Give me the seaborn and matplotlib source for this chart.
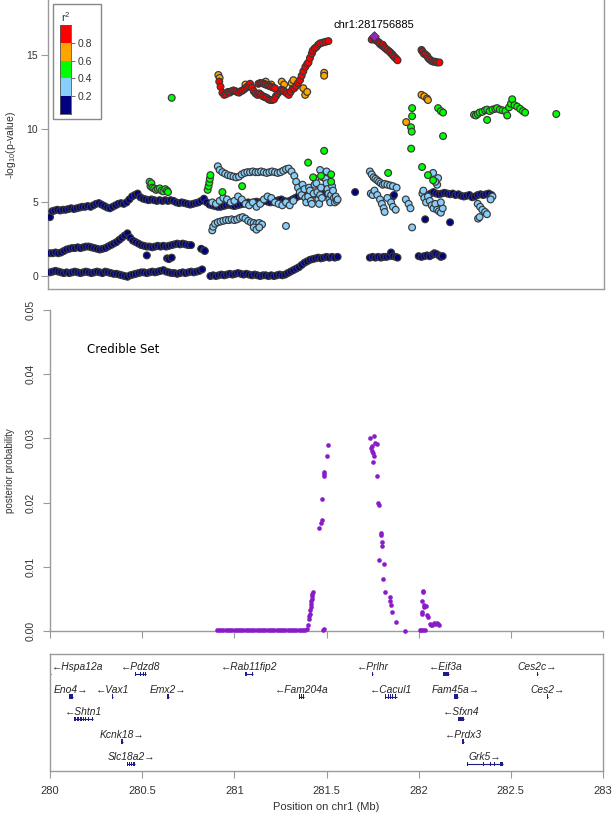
import numpy as np
import pandas as pd
import seaborn as sns
import matplotlib.pyplot as plt
from matplotlib.patches import Rectangle

sns.set_theme(style="white")
plt.rcParams['font.family'] = ['Liberation Sans', 'DejaVu Sans']
plt.rcParams['mathtext.default'] = 'regular'

# ---- association panel (-log10 p) ----
# r2 < 0.2 (navy): three long tracks plus small clusters
navy_low_pos = [280.00, 280.015, 280.03, 280.045, 280.06, 280.075, 280.09, 280.105, 280.12, 280.135,
                280.15, 280.165, 280.18, 280.195, 280.21, 280.225, 280.24, 280.255, 280.27, 280.285,
                280.30, 280.315, 280.33, 280.345, 280.36, 280.375, 280.39, 280.405, 280.42, 280.435,
                280.45, 280.465, 280.48, 280.495, 280.51, 280.525, 280.54, 280.555, 280.57, 280.585,
                280.60, 280.615, 280.63, 280.645, 280.66, 280.675, 280.69, 280.705, 280.72, 280.735,
                280.75, 280.765, 280.78, 280.795, 280.81, 280.825,
                280.87, 280.885, 280.90, 280.915, 280.93, 280.945, 280.96, 280.975, 280.99, 281.005,
                281.02, 281.035, 281.05, 281.065, 281.08, 281.095, 281.11, 281.125, 281.14, 281.155,
                281.17, 281.185, 281.20, 281.215, 281.23, 281.245, 281.26, 281.275, 281.29, 281.305,
                281.32, 281.335, 281.35, 281.365, 281.38, 281.395, 281.41, 281.425, 281.44, 281.455,
                281.47, 281.485, 281.50, 281.515, 281.53, 281.545, 281.56,
                281.735, 281.75, 281.765, 281.78, 281.795, 281.81, 281.825, 281.84, 281.85, 281.86,
                281.875, 281.885,
                282.00, 282.015, 282.03, 282.045, 282.06, 282.075, 282.085, 282.095, 282.11, 282.12, 282.13]
navy_low_val = [0.25, 0.3, 0.35, 0.3, 0.25, 0.2, 0.25, 0.2, 0.25, 0.3,
                0.25, 0.2, 0.25, 0.3, 0.25, 0.2, 0.25, 0.3, 0.25, 0.2,
                0.3, 0.25, 0.2, 0.15, 0.15, 0.1, 0.05, 0.0, -0.05, 0.05,
                0.1, 0.15, 0.2, 0.25, 0.25, 0.2, 0.25, 0.3, 0.25, 0.3,
                0.35, 0.4, 0.3, 0.25, 0.2, 0.2, 0.15, 0.2, 0.25, 0.2,
                0.25, 0.3, 0.25, 0.3, 0.35, 0.45,
                0.0, 0.05, 0.0, 0.05, 0.1, 0.05, 0.1, 0.15, 0.1, 0.15,
                0.2, 0.15, 0.1, 0.15, 0.1, 0.05, 0.1, 0.05, 0.0, 0.05,
                0.05, 0.0, 0.05, 0.0, 0.05, 0.1, 0.05, 0.1, 0.2, 0.3,
                0.4, 0.5, 0.6, 0.75, 0.9, 1.0, 1.1, 1.15, 1.2, 1.25,
                1.2, 1.25, 1.3, 1.25, 1.3, 1.25, 1.3,
                1.25, 1.3, 1.25, 1.3, 1.25, 1.3, 1.3, 1.35, 1.6, 1.35,
                1.3, 1.25,
                1.35, 1.3, 1.35, 1.4, 1.35, 1.45, 1.55, 1.5, 1.4, 1.3, 1.35]

navy_mid_pos = [280.00, 280.015, 280.03, 280.045, 280.06, 280.075, 280.09, 280.105, 280.12, 280.135,
                280.15, 280.165, 280.18, 280.195, 280.21, 280.225, 280.24, 280.255, 280.27, 280.285,
                280.30, 280.315, 280.33, 280.345, 280.36, 280.375, 280.39, 280.405, 280.42, 280.435,
                280.45, 280.465, 280.48, 280.495, 280.51, 280.525, 280.54, 280.555, 280.57, 280.585,
                280.60, 280.615, 280.63, 280.645, 280.66, 280.675, 280.69, 280.705, 280.72, 280.735,
                280.75, 280.765,
                280.525, 280.635, 280.645, 280.66, 280.82, 280.835, 280.84]
navy_mid_val = [1.55, 1.55, 1.6, 1.55, 1.6, 1.7, 1.8, 1.85, 1.9, 1.9,
                1.95, 1.9, 1.95, 2.0, 2.0, 1.95, 1.9, 1.85, 1.8, 1.85,
                1.9, 2.0, 2.1, 2.2, 2.3, 2.45, 2.6, 2.75, 2.9, 2.6,
                2.4, 2.3, 2.2, 2.1, 2.05, 2.0, 2.0, 1.95, 2.0, 2.05,
                2.0, 2.05, 2.0, 2.05, 2.1, 2.15, 2.2, 2.15, 2.2, 2.15,
                2.1, 2.1,
                1.4, 1.2, 1.15, 1.25, 1.85, 1.75, 1.7]

navy_up_pos = [280.00, 280.012, 280.025, 280.04, 280.055, 280.07, 280.085, 280.10, 280.115, 280.13,
               280.145, 280.16, 280.175, 280.19, 280.205, 280.22, 280.235, 280.25, 280.265, 280.28,
               280.295, 280.31, 280.325, 280.34, 280.355, 280.37, 280.385, 280.40, 280.415, 280.43,
               280.445, 280.46, 280.475, 280.49, 280.505, 280.52, 280.535, 280.55, 280.565, 280.58,
               280.595, 280.61, 280.625, 280.64, 280.655, 280.67, 280.685, 280.70, 280.715, 280.73,
               280.745, 280.76, 280.775, 280.79, 280.805, 280.82, 280.835, 280.85, 280.865, 280.88,
               280.895, 280.91, 280.925, 280.94, 280.955, 280.97, 280.985, 281.00, 281.015, 281.03,
               281.045, 281.06, 281.075, 281.09, 281.105, 281.12, 281.135, 281.15, 281.165, 281.18,
               281.195, 281.21, 281.225, 281.24, 281.255, 281.27, 281.285, 281.30, 281.315, 281.33,
               281.345, 281.36, 281.375, 281.39, 281.405, 281.42, 281.435, 281.45, 281.465, 281.48,
               281.495, 281.51,
               282.05, 282.065, 282.08, 282.095, 282.11, 282.125, 282.14, 282.155, 282.17, 282.185,
               282.20, 282.215, 282.23, 282.245, 282.26, 282.275, 282.29, 282.305, 282.32, 282.335,
               282.35, 282.365, 282.38, 282.395,
               281.655, 281.86, 281.866, 282.035, 282.17]
navy_up_val = [4.0, 4.4, 4.45, 4.5, 4.45, 4.5, 4.5, 4.55, 4.6, 4.55,
               4.6, 4.65, 4.7, 4.7, 4.75, 4.7, 4.8, 4.9, 4.95, 4.85,
               4.75, 4.65, 4.6, 4.7, 4.8, 4.9, 4.95, 4.9, 5.0, 5.2,
               5.4, 5.5, 5.6, 5.35, 5.25, 5.2, 5.15, 5.2, 5.15, 5.1,
               5.15, 5.1, 5.15, 5.1, 5.15, 5.1, 5.0, 4.95, 5.0, 4.95,
               4.9, 4.85, 4.9, 4.95, 5.0, 5.1, 5.25, 5.0, 4.85, 4.8,
               4.75, 4.7, 4.7, 4.75, 4.8, 4.85, 4.8, 4.75, 4.8, 4.85,
               4.9, 4.95, 5.0, 4.95, 5.0, 5.05, 5.0, 5.05, 5.1, 5.05,
               5.0, 5.05, 5.1, 5.15, 5.2, 5.1, 5.05, 5.1, 5.2, 5.3,
               5.4, 5.45, 5.5, 5.55, 5.5, 5.6, 5.55, 5.6, 5.55, 5.6,
               5.55, 5.6,
               5.5, 5.6, 5.7, 5.6, 5.55, 5.6, 5.65, 5.6, 5.55, 5.6,
               5.5, 5.55, 5.45, 5.4, 5.45, 5.5, 5.35, 5.4, 5.5, 5.55,
               5.5, 5.55, 5.6, 5.5,
               5.7, 5.4, 5.5, 3.85, 3.65]

# 0.2 <= r2 < 0.4 (light blue)
sky_pos = [280.91, 280.92, 280.935, 280.95, 280.965, 280.98, 280.995, 281.01, 281.025, 281.04,
           281.055, 281.07, 281.085, 281.10, 281.115, 281.13, 281.145, 281.16, 281.175, 281.19,
           281.205, 281.22, 281.235, 281.25, 281.265, 281.28, 281.295, 281.31, 281.325, 281.335,
           281.345, 281.355, 281.365,
           281.37, 281.38, 281.385, 281.39, 281.40, 281.405, 281.41, 281.415, 281.42, 281.43,
           281.435, 281.44, 281.445, 281.45, 281.455, 281.46, 281.465, 281.47, 281.475, 281.48,
           281.485, 281.49, 281.495, 281.50, 281.505, 281.51, 281.515, 281.52, 281.525, 281.53,
           281.535, 281.54, 281.545, 281.55, 281.555, 281.56, 281.465, 281.50,
           280.88, 280.90, 280.92, 280.94, 280.96, 280.98, 281.00, 281.02, 281.04, 281.06,
           281.08, 281.10, 281.12, 281.14, 281.16, 281.18, 281.20, 281.22, 281.24, 281.26,
           281.28, 281.30, 281.32,
           280.88, 280.885, 280.895, 280.91, 280.925, 280.94, 280.955, 280.97, 280.985, 281.00,
           281.015, 281.03, 281.045, 281.06, 281.075, 281.09, 281.105, 281.12, 281.135, 281.15,
           281.105, 281.12, 281.135, 281.28,
           281.735, 281.745, 281.755, 281.765, 281.775, 281.785, 281.795, 281.805, 281.815, 281.83,
           281.845, 281.86, 281.88, 281.74, 281.75, 281.76, 281.775, 281.79, 281.80, 281.81,
           281.815, 281.83, 281.85, 281.86, 281.875,
           281.93, 281.945, 281.955, 281.964, 282.078, 282.10, 282.105, 282.09, 282.02, 282.03,
           282.04, 282.05, 282.06, 282.07, 282.08, 282.09, 282.10, 282.11, 282.12, 282.13,
           282.12, 282.025, 282.32, 282.333, 282.345, 282.36, 282.37, 282.322, 282.33, 282.40, 282.39]
sky_val = [7.45, 7.2, 7.05, 6.95, 6.85, 6.8, 6.75, 6.7, 6.75, 6.9,
           7.0, 7.05, 7.05, 7.1, 7.05, 7.05, 7.1, 7.05, 7.0, 7.05,
           7.1, 7.05, 7.0, 7.05, 7.15, 7.25, 7.3, 7.1, 6.8, 6.4,
           6.0, 5.7, 5.5,
           6.2, 5.9, 5.3, 5.0, 5.4, 6.0, 5.8, 5.1, 4.9, 5.6,
           6.2, 6.6, 6.3, 5.7, 5.2, 4.9, 5.5, 6.0, 5.3, 6.7,
           7.0, 6.9, 6.6, 6.3, 5.9, 5.6, 5.2, 5.0, 5.5, 6.1,
           5.8, 5.3, 5.0, 5.4, 5.1, 5.2, 7.2, 7.1,
           5.0, 4.9, 5.1, 5.3, 5.2, 5.0, 5.1, 5.4, 5.2, 4.9,
           4.8, 5.0, 4.7, 4.9, 5.2, 5.4, 5.3, 5.0, 4.9, 4.8,
           5.0, 4.8, 5.1,
           3.1, 3.35, 3.55, 3.65, 3.7, 3.75, 3.8, 3.8, 3.85, 3.8,
           3.85, 3.95, 4.0, 3.9, 3.75, 3.65, 3.6, 3.55, 3.6, 3.5,
           3.3, 3.15, 3.3, 3.4,
           7.1, 6.9, 6.7, 6.6, 6.5, 6.4, 6.3, 6.2, 6.25, 6.2,
           6.15, 6.1, 6.0, 5.6, 5.5, 5.8, 5.5, 5.2, 4.9, 4.6,
           4.35, 5.3, 5.0, 4.7, 4.5,
           5.2, 4.9, 4.6, 3.3, 7.0, 6.2, 6.65, 6.4, 5.6, 5.3,
           5.0, 5.4, 5.1, 4.8, 4.6, 4.9, 4.5, 4.4, 4.3, 4.6,
           5.0, 5.8, 4.9, 4.7, 4.5, 4.35, 4.2, 3.9, 4.0, 5.4, 5.2]

# 0.4 <= r2 < 0.6 (green)
green_pos = [280.54, 280.545, 280.55, 280.555, 280.565, 280.575, 280.585, 280.595, 280.605, 280.615,
             280.625, 280.635, 280.64, 280.66, 280.855, 280.86, 280.864, 280.867, 280.87, 280.935,
             281.042, 281.40, 281.427, 281.47, 281.487, 281.525, 281.525, 281.834, 281.964, 281.964,
             281.958, 281.962, 281.959, 282.132, 282.105, 282.12, 282.132, 282.018, 282.05, 282.078,
             282.30, 282.31, 282.32, 282.33, 282.345, 282.36, 282.371, 282.371, 282.385, 282.40,
             282.415, 282.425, 282.44, 282.455, 282.47, 282.48, 282.49, 282.50, 282.507, 282.52,
             282.534, 282.55, 282.565, 282.577, 282.746]
green_val = [6.4, 6.1, 6.3, 6.0, 5.95, 5.85, 5.9, 5.95, 5.8, 5.75,
             5.9, 5.8, 5.7, 12.1, 5.85, 6.1, 6.35, 6.6, 6.85, 5.7,
             6.1, 7.7, 6.7, 6.8, 8.5, 6.9, 6.4, 7.0, 11.4, 10.85,
             10.1, 9.8, 8.65, 9.5, 11.4, 11.2, 11.1, 7.4, 6.85, 6.5,
             10.95, 10.9, 11.0, 11.1, 11.15, 11.25, 11.3, 10.6, 11.2, 11.3,
             11.35, 11.4, 11.3, 11.25, 11.2, 10.9, 11.45, 11.7, 12.0, 11.6,
             11.5, 11.35, 11.2, 11.1, 11.0]

# 0.6 <= r2 < 0.8 (orange)
orange_pos = [280.913, 280.92, 281.06, 281.17, 281.20, 281.248, 281.257, 281.27, 281.311, 281.32,
              281.374, 281.384, 281.395, 281.487, 281.487, 281.932, 282.015, 282.03, 282.045, 282.05]
orange_val = [13.65, 13.45, 13.0, 13.2, 13.0, 12.6, 13.2, 13.0, 13.1, 13.3,
              12.75, 12.3, 12.5, 13.8, 13.6, 10.45, 12.3, 12.2, 12.05, 11.95]

# r2 >= 0.8 (red)
red_pos = [280.918, 280.925, 280.935, 280.945, 280.955, 280.965, 280.975, 280.985, 280.995, 281.005,
           281.015, 281.025, 281.035, 281.045, 281.055, 281.065, 281.075, 281.085, 281.095, 281.105,
           281.115, 281.125, 281.135, 281.145, 281.155, 281.165, 281.175, 281.185, 281.195, 281.205,
           281.215, 281.225, 281.235, 281.245, 281.255, 281.265, 281.275, 281.285, 281.295, 281.305,
           281.315, 281.325, 281.335, 281.345, 281.356, 281.365, 281.374, 281.385, 281.395, 281.402,
           281.41, 281.42, 281.425, 281.435, 281.445, 281.455, 281.465, 281.48, 281.495, 281.51,
           281.13, 281.14, 281.15, 281.16, 281.17, 281.18, 281.19, 281.20, 281.21, 281.22,
           281.745, 281.76, 281.768, 281.775, 281.785, 281.79, 281.80, 281.805, 281.812, 281.82,
           281.83, 281.84, 281.848, 281.856, 281.862, 281.87, 281.878, 281.885,
           282.015, 282.02, 282.028, 282.035, 282.045, 282.052, 282.06, 282.07, 282.08, 282.09,
           282.10, 282.112]
red_val = [13.2, 12.85, 12.45, 12.3, 12.35, 12.5, 12.45, 12.55, 12.6, 12.55,
           12.5, 12.45, 12.55, 12.6, 12.7, 12.8, 12.9, 13.05, 12.8, 12.55,
           12.4, 12.3, 12.4, 12.3, 12.2, 12.15, 12.1, 12.0, 11.95, 11.95,
           12.0, 12.2, 12.4, 12.55, 12.65, 12.6, 12.5, 12.4, 12.3, 12.5,
           12.7, 12.75, 12.9, 13.1, 13.3, 13.6, 13.9, 14.2, 14.4, 14.5,
           14.8, 15.1, 15.3, 15.45, 15.55, 15.7, 15.8, 15.85, 15.9, 15.95,
           13.05, 13.1, 13.1, 13.05, 13.0, 12.95, 12.9, 12.85, 12.8, 12.75,
           16.05, 16.1, 16.0, 15.95, 15.85, 15.75, 15.65, 15.7, 15.55, 15.45,
           15.35, 15.25, 15.15, 15.05, 14.95, 14.85, 14.75, 14.65,
           15.35, 15.25, 15.1, 15.05, 14.95, 14.8, 14.7, 14.6, 14.55, 14.55,
           14.5, 14.5]

lead_pos = 281.756885
lead_val = 16.3
lead_label = "chr1:281756885"

ld_order = ["navy", "sky", "green", "orange", "red"]
ld_colors = {"navy": "#000080", "sky": "#87CEFA", "green": "#00FF00",
             "orange": "#FFA500", "red": "#FF0000"}
r2_bounds = [0.0, 0.2, 0.4, 0.6, 0.8, 1.0]
r2_ticks = [0.2, 0.4, 0.6, 0.8]

# ---- credible set panel ----
cred_pos = [280.905, 280.917, 280.929, 280.941, 280.953, 280.965, 280.977, 280.989, 281.001, 281.013,
            281.025, 281.037, 281.049, 281.061, 281.073, 281.085, 281.097, 281.109, 281.121, 281.133,
            281.145, 281.157, 281.169, 281.181, 281.193, 281.205, 281.217, 281.229, 281.241, 281.253,
            281.265, 281.277, 281.289, 281.301, 281.313, 281.325, 281.337, 281.349, 281.361, 281.373,
            281.385, 281.395, 281.40, 281.405, 281.407, 281.41, 281.412, 281.414, 281.416, 281.418,
            281.42, 281.422, 281.424, 281.426, 281.461, 281.472, 281.474, 281.478, 281.48, 281.485,
            281.485, 281.487, 281.488, 281.505, 281.508,
            281.736, 281.742, 281.745, 281.749, 281.752, 281.75, 281.755, 281.76, 281.765, 281.772,
            281.774, 281.781, 281.785, 281.794, 281.797, 281.801, 281.803, 281.787, 281.814, 281.807,
            281.82, 281.845, 281.847, 281.85, 281.857, 281.879, 281.925,
            282.005, 282.015, 282.025, 282.035, 282.017, 282.019, 282.02, 282.022, 282.024, 282.027,
            282.031, 282.038, 282.047, 282.05, 282.062, 282.068, 282.075, 282.082, 282.09, 282.10,
            282.107, 282.11]
cred_prob = [0.0001, 0.0001, 0.0001, 0.0001, 0.0001, 0.0001, 0.0001, 0.0001, 0.0001, 0.0001,
             0.0001, 0.0001, 0.0001, 0.0001, 0.0001, 0.0001, 0.0001, 0.0001, 0.0001, 0.0001,
             0.0001, 0.0001, 0.0001, 0.0001, 0.0001, 0.0001, 0.0001, 0.0001, 0.0001, 0.0001,
             0.0001, 0.0001, 0.0001, 0.0001, 0.0001, 0.0001, 0.0001, 0.0001, 0.0001, 0.0002,
             0.0002, 0.0003, 0.0009, 0.0018, 0.0023, 0.0027, 0.0033, 0.0038, 0.0042, 0.0046,
             0.0050, 0.0055, 0.0058, 0.0060, 0.0160, 0.0168, 0.0173, 0.0205, 0.0002, 0.0003,
             0.0242, 0.0245, 0.0247, 0.0272, 0.0289,
             0.0300, 0.0285, 0.0288, 0.0280, 0.0277, 0.0264, 0.0272, 0.0304, 0.0293, 0.0292,
             0.0241, 0.0199, 0.0196, 0.0152, 0.0150, 0.0138, 0.0133, 0.0110, 0.0104, 0.0081,
             0.0061, 0.0053, 0.0047, 0.0040, 0.0030, 0.0014, 0.0000,
             0.0001, 0.0001, 0.0001, 0.0001, 0.0027, 0.0030, 0.0046, 0.0062, 0.0060, 0.0038,
             0.0040, 0.0039, 0.0025, 0.0022, 0.0011, 0.0009, 0.0010, 0.0012, 0.0011, 0.0012,
             0.0011, 0.0009]

# ---- genes ----
gene_names = ["Hspa12a", "Pdzd8", "Rab11fip2", "Prlhr", "Eif3a", "Ces2c",
              "Eno4", "Vax1", "Emx2", "Fam204a", "Cacul1", "Fam45a", "Ces2",
              "Shtn1", "Sfxn4", "Kcnk18", "Prdx3", "Slc18a2", "Grk5"]
gene_start = [279.99, 280.46, 281.06, 281.748, 282.13, 282.642,
              280.105, 280.336, 280.637, 281.35, 281.82, 282.19, 282.697,
              280.13, 282.215, 280.385, 282.237, 280.42, 282.262]
gene_end = [280.005, 280.52, 281.10, 281.752, 282.165, 282.648,
            280.125, 280.342, 280.643, 281.38, 281.885, 282.215, 282.703,
            280.235, 282.245, 280.395, 282.244, 280.46, 282.46]
gene_strand = ["-", "-", "-", "-", "-", "+",
               "+", "-", "+", "-", "-", "+", "+",
               "-", "-", "+", "-", "+", "+"]
gene_row = [0, 0, 0, 0, 0, 0,
            1, 1, 1, 1, 1, 1, 1,
            2, 2, 3, 3, 4, 4]
gene_exons = {
    "Pdzd8": [280.462, 280.475, 280.49, 280.503, 280.515],
    "Rab11fip2": [281.06, 281.066, 281.094],
    "Fam204a": [281.35, 281.362, 281.374],
    "Cacul1": [281.82, 281.832, 281.845, 281.858, 281.872, 281.88],
    "Shtn1": [280.13, 280.138, 280.146, 280.154, 280.162, 280.17, 280.178, 280.19, 280.205, 280.22, 280.23],
    "Slc18a2": [280.42, 280.43, 280.44, 280.45, 280.455],
    "Grk5": [282.262, 282.35, 282.385, 282.41, 282.44, 282.447, 282.454],
}

region = (280.0, 283.0)
x_ticks = [280, 280.5, 281, 281.5, 282, 282.5, 283]
x_ticklabels = ["280", "280.5", "281", "281.5", "282", "282.5", "283"]

# ---- build figure ----
W, H = 616, 818
fig = plt.figure(figsize=(W / 100, H / 100), dpi=100)
frame_col = "#9a9a9a"
text_col = "#333333"

def fig_box(x0, y0, x1, y1):
    return [x0 / W, 1 - y1 / H, (x1 - x0) / W, (y1 - y0) / H]

ax_top = fig.add_axes(fig_box(48, 0, 604, 289))
ax_mid = fig.add_axes(fig_box(50, 310, 603, 631))
ax_gene = fig.add_axes(fig_box(50, 654, 603, 771))

# association scatter
frames = []
for key, pos, val in [("navy", navy_low_pos, navy_low_val), ("navy", navy_mid_pos, navy_mid_val),
                      ("navy", navy_up_pos, navy_up_val), ("sky", sky_pos, sky_val),
                      ("green", green_pos, green_val), ("orange", orange_pos, orange_val),
                      ("red", red_pos, red_val)]:
    frames.append(pd.DataFrame({"pos": pos, "logp": val, "ld": key}))
assoc = pd.concat(frames, ignore_index=True)

sns.scatterplot(data=assoc, x="pos", y="logp", hue="ld", hue_order=ld_order, palette=ld_colors,
                s=24, edgecolor="#383838", linewidth=0.85, legend=False, ax=ax_top, zorder=3)
ax_top.scatter([lead_pos], [lead_val], marker="D", s=24, color="#8E2AC0",
               edgecolor="#383838", linewidth=0.6, zorder=4)
ax_top.annotate(lead_label, (lead_pos, lead_val), xytext=(0, 4), textcoords="offset points",
                ha="center", va="bottom", fontsize=8, color="black")

ax_top.set_xlim(279.989, 283.005)
ax_top.set_ylim(-0.88, 18.74)
ax_top.set_xticks([])
ax_top.set_yticks([0, 5, 10, 15])
ax_top.tick_params(axis="y", length=5, width=0.8, color=frame_col, labelsize=7.5,
                   labelcolor=text_col, left=True, pad=2)
ax_top.set_xlabel("")
ax_top.set_ylabel("-log$_{10}$(p-value)", fontsize=7.5, color=text_col, labelpad=6)
for side, sp in ax_top.spines.items():
    sp.set_color(frame_col)
    sp.set_linewidth(1)
ax_top.spines["top"].set_visible(False)

# r2 legend: white box with a stacked colour key
legend_frame = Rectangle((53 / W, 1 - 119 / H), 48 / W, 115 / H, transform=fig.transFigure,
                         facecolor="white", edgecolor="#888888", linewidth=1, zorder=2)
fig.patches.append(legend_frame)
cax = fig.add_axes(fig_box(60, 25, 71, 114))
cax.set_zorder(3)
cax.bar([0] * 5, np.diff(r2_bounds), bottom=r2_bounds[:-1], width=1.0,
        color=[ld_colors[k] for k in ld_order], edgecolor="none")
cax.set_xlim(-0.5, 0.5)
cax.set_ylim(0, 1)
cax.set_xticks([])
cax.yaxis.tick_right()
cax.set_yticks(r2_ticks)
cax.set_yticklabels([f"{t:.1f}" for t in r2_ticks])
cax.tick_params(axis="y", right=True, left=False, length=3, width=0.6, color="#555555",
                labelsize=7.5, labelcolor=text_col, pad=1.5)
for sp in cax.spines.values():
    sp.set_color("#555555")
    sp.set_linewidth(0.6)
cax.set_title("r$^{2}$", fontsize=8, color=text_col, pad=2)

# credible set
cred = pd.DataFrame({"pos": cred_pos, "prob": cred_prob})
sns.scatterplot(data=cred, x="pos", y="prob", color="#8A1CC8", s=11, linewidth=0,
                legend=False, ax=ax_mid, clip_on=False, zorder=3)
ax_mid.set_xlim(*region)
ax_mid.set_ylim(0, 0.05)
ax_mid.set_xticks(x_ticks)
ax_mid.set_xticklabels([])
ax_mid.set_yticks([0, 0.01, 0.02, 0.03, 0.04, 0.05])
ax_mid.set_yticklabels(["0.00", "0.01", "0.02", "0.03", "0.04", "0.05"], rotation=90, va="center")
ax_mid.tick_params(axis="both", length=5, width=0.8, color=frame_col, labelsize=7.5,
                   labelcolor=text_col, left=True, bottom=True)
ax_mid.tick_params(axis="y", pad=5)
ax_mid.set_xlabel("")
ax_mid.set_ylabel("posterior probability", fontsize=7, color=text_col, labelpad=8)
for side in ["top", "right"]:
    ax_mid.spines[side].set_visible(False)
for side in ["left", "bottom"]:
    ax_mid.spines[side].set_color(frame_col)
    ax_mid.spines[side].set_linewidth(1)
ax_mid.text(280.2, 0.0439, "Credible Set", fontsize=8.5, family="DejaVu Sans",
            va="center", ha="left", color="black")

# genes
gene_col = "#1c1c8a"
for name, g0, g1, strand, row in zip(gene_names, gene_start, gene_end, gene_strand, gene_row):
    y = -row
    g0c = max(g0, region[0])
    ax_gene.hlines(y, g0c, g1, color=gene_col, linewidth=0.8)
    exons = gene_exons.get(name)
    if exons is None:
        ax_gene.add_patch(Rectangle((g0c, y - 0.1), max(g1 - g0c, 0.005), 0.2,
                                    facecolor=gene_col, edgecolor="none"))
    else:
        for ex in exons:
            ax_gene.add_patch(Rectangle((ex, y - 0.1), 0.005, 0.2, facecolor=gene_col, edgecolor="none"))
    label = ("\u2190" + name) if strand == "-" else (name + "\u2192")
    mid = (g0c + g1) / 2
    if mid < region[0] + 0.06:
        ax_gene.text(region[0] + 0.01, y + 0.31, label, style="italic", fontsize=7.4, ha="left", va="center")
    else:
        ax_gene.text(mid, y + 0.31, label, style="italic", fontsize=7.4, ha="center", va="center")

ax_gene.set_xlim(*region)
ax_gene.set_ylim(-4.31, 0.89)
ax_gene.set_yticks([])
ax_gene.set_xticks(x_ticks)
ax_gene.set_xticklabels(x_ticklabels)
ax_gene.tick_params(axis="x", length=5, width=0.8, color=frame_col, labelsize=8,
                    labelcolor=text_col, bottom=True, pad=6)
ax_gene.set_xlabel("Position on chr1 (Mb)", fontsize=8, color=text_col, labelpad=4)
for sp in ax_gene.spines.values():
    sp.set_color(frame_col)
    sp.set_linewidth(1)

fig.savefig("out.png", dpi=100)
